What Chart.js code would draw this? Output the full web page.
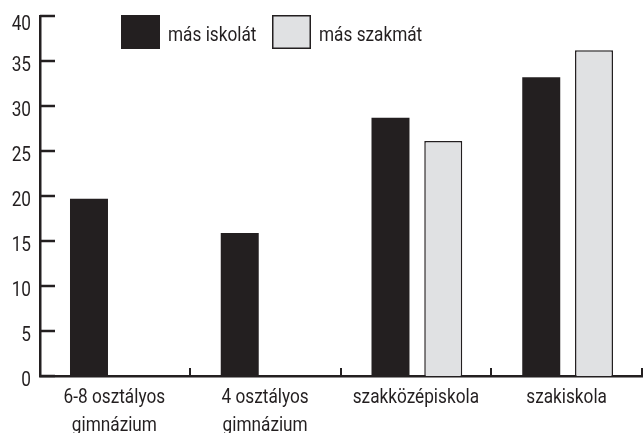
<!DOCTYPE html>
<html>
<head>
<meta charset="utf-8">
<script src="https://cdn.jsdelivr.net/npm/chart.js@4"></script>
<style>
  html, body { margin: 0; padding: 0; background: #fff; }
  #wrap { width: 643px; height: 433px; }
</style>
</head>
<body>
<div id="wrap"><canvas id="myChart"></canvas></div>
<script>
// data
const categories = [['6-8 osztályos', 'gimnázium'], ['4 osztályos', 'gimnázium'], 'szakközépiskola', 'szakiskola'];
const seriesNames = ['más iskolát', 'más szakmát'];
const masIskolat = [19.7, 15.9, 28.7, 33.2];
const masSzakmat = [null, null, 26.1, 36.2];
const yTicks = [0, 5, 10, 15, 20, 25, 30, 35, 40];

const FONT = '21px Roboto, "Liberation Sans", sans-serif';
const NARROW = 0.82;   // the original uses a condensed face
const INK = '#231f20';
const LIGHT = '#e0e1e3';

function narrowText(ctx, txt, x, y, align) {
    ctx.save();
    ctx.translate(x, y);
    ctx.scale(NARROW, 1);
    ctx.textAlign = align;
    ctx.fillText(txt, 0, 0);
    ctx.restore();
}

// inward tick marks, tick labels and the legend
const axisMarks = {
    id: 'axisMarks',
    afterDraw(chart) {
        const ctx = chart.ctx;
        const x = chart.scales.x;
        const y = chart.scales.y;
        ctx.save();
        ctx.strokeStyle = INK;
        ctx.fillStyle = INK;
        ctx.font = FONT;
        ctx.textBaseline = 'alphabetic';

        ctx.lineWidth = 2.5;
        yTicks.forEach(function (v) {
            const py = Math.round(y.getPixelForValue(v));
            ctx.beginPath();
            ctx.moveTo(x.left, py);
            ctx.lineTo(x.left + 15, py);
            ctx.stroke();
            // label, kept inside the canvas at the top
            const base = Math.max(py + 9.5, 30);
            narrowText(ctx, String(v), 31, base, 'right');
        });

        const half = (x.getPixelForValue(1) - x.getPixelForValue(0)) / 2;
        ctx.lineWidth = 2;
        for (let i = 0; i < categories.length; i++) {
            const px = Math.round(x.getPixelForValue(i) + half) - 1;
            ctx.beginPath();
            ctx.moveTo(px, y.bottom);
            ctx.lineTo(px, y.bottom - 8);
            ctx.stroke();
        }

        categories.forEach(function (lab, i) {
            const cx = x.getPixelForValue(i);
            const lines = Array.isArray(lab) ? lab : [lab];
            lines.forEach(function (ln, j) {
                narrowText(ctx, ln, cx - 1, y.bottom + 27 + j * 28, 'center');
            });
        });

        // legend
        const boxes = [121, 272];
        chart.data.datasets.forEach(function (ds, i) {
            const bx = boxes[i];
            ctx.fillStyle = ds.backgroundColor;
            ctx.fillRect(bx, 15, 39, 34);
            if (ds.borderWidth) {
                ctx.lineWidth = 1.5;
                ctx.strokeStyle = INK;
                ctx.strokeRect(bx + 0.75, 15.75, 37.5, 32.5);
            }
            ctx.fillStyle = INK;
            narrowText(ctx, ds.label, bx + 47, 41, 'left');
        });
        ctx.restore();
    }
};

const data = {
    labels: categories,
    datasets: [{
        label: seriesNames[0],
        data: masIskolat,
        backgroundColor: INK,
        borderWidth: 0
    }, {
        label: seriesNames[1],
        data: masSzakmat,
        backgroundColor: LIGHT,
        borderColor: INK,
        borderWidth: 1.5
    }]
};

const config = {
    type: 'bar',
    data: data,
    options: {
        responsive: true,
        maintainAspectRatio: false,
        animation: false,
        layout: { padding: { top: 16, right: 0, left: 0, bottom: 0 } },
        datasets: {
            bar: { categoryPercentage: 0.70, barPercentage: 0.72 }
        },
        plugins: {
            legend: { display: false },
            tooltip: { enabled: false }
        },
        scales: {
            x: {
                offset: true,
                grid: { display: false, drawTicks: false },
                border: { display: true, color: INK, width: 2.5 },
                ticks: { display: false },
                afterFit(scale) { scale.height = 57; }
            },
            y: {
                min: 0,
                max: 40,
                grid: { display: false, drawTicks: false },
                border: { display: true, color: INK, width: 2.5 },
                afterBuildTicks(scale) {
                    scale.ticks = yTicks.map(function (v) { return { value: v }; });
                },
                ticks: { display: false },
                afterFit(scale) { scale.width = 40; }
            }
        }
    },
    plugins: [axisMarks]
};

const myChart = new Chart(document.getElementById('myChart'), config);
</script>
</body>
</html>
